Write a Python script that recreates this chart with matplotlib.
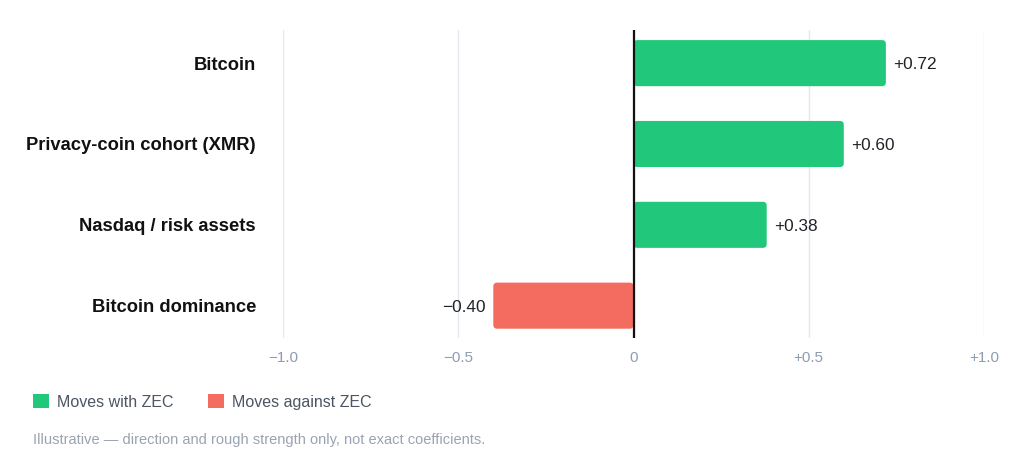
import matplotlib.pyplot as plt
from matplotlib.patches import FancyBboxPatch, Patch

plt.rcParams['font.family'] = ['Liberation Sans', 'DejaVu Sans']

# --- DATA ---
categories = ['Bitcoin', 'Privacy-coin cohort (XMR)', 'Nasdaq / risk assets', 'Bitcoin dominance']
correlations = [0.72, 0.60, 0.38, -0.40]
tick_values = [-1.0, -0.5, 0.0, 0.5, 1.0]
tick_labels = ['\u22121.0', '\u22120.5', '0', '+0.5', '+1.0']

GREEN = '#21c77a'
RED = '#f46c5f'

fig = plt.figure(figsize=(10.24, 4.72), dpi=100)
ax = fig.add_axes([283 / 1024, 1 - 338 / 472, (984 - 283) / 1024, (338 - 30) / 472])

colors = [GREEN if v >= 0 else RED for v in correlations]
ypos = list(range(len(categories)))
bars = ax.barh(ypos, correlations, height=0.57, color=colors, zorder=2)

# swap plain bars for slightly rounded ones
for b, c in zip(bars, colors):
    b.set_visible(False)
    x0, y0, w, h = b.get_x(), b.get_y(), b.get_width(), b.get_height()
    if w < 0:
        x0, w = x0 + w, -w
    ax.add_patch(FancyBboxPatch((x0, y0), w, h,
                                boxstyle='round,pad=0,rounding_size=0.011',
                                mutation_aspect=4.3, facecolor=c,
                                edgecolor='none', zorder=2))

for y, v in zip(ypos, correlations):
    txt = f'+{v:.2f}' if v >= 0 else f'\u2212{abs(v):.2f}'
    off = 0.022
    ax.text(v + off if v >= 0 else v - off, y, txt,
            ha='left' if v >= 0 else 'right', va='center_baseline',
            fontsize=12.4, color='#1f2328')

ax.set_xlim(-1.0, 1.0)
ax.set_ylim(len(categories) - 0.6, -0.41)
ax.set_xticks(tick_values)
ax.set_xticklabels(tick_labels, fontsize=11, color='#8f9bb0')
ax.set_yticks(ypos)
ax.set_yticklabels(categories, fontsize=13.2, fontweight='bold', color='#111111')
for t in ax.get_yticklabels():
    t.set_verticalalignment('center_baseline')
ax.tick_params(axis='y', length=0, pad=19.5)
ax.tick_params(axis='x', length=0, pad=9)

ax.grid(axis='x', color='#e5e8ee', linewidth=1, zorder=0)
ax.axvline(0, color='#111111', linewidth=1.6, zorder=3)
for s in ax.spines.values():
    s.set_visible(False)

handles = [Patch(facecolor=GREEN, edgecolor='none', label='Moves with ZEC'),
           Patch(facecolor=RED, edgecolor='none', label='Moves against ZEC')]
fig.legend(handles=handles, loc='center left', bbox_to_anchor=(19 / 1024, 1 - 402 / 472),
           ncol=2, frameon=False, fontsize=11.5, labelcolor='#4b5563',
           handlelength=1.0, handleheight=1.0, handletextpad=0.5, columnspacing=2.15)

fig.text(33 / 1024, 1 - 440 / 472,
         'Illustrative \u2014 direction and rough strength only, not exact coefficients.',
         ha='left', va='center', fontsize=10.5, color='#9aa3b2')

fig.savefig('out.png', dpi=100)
